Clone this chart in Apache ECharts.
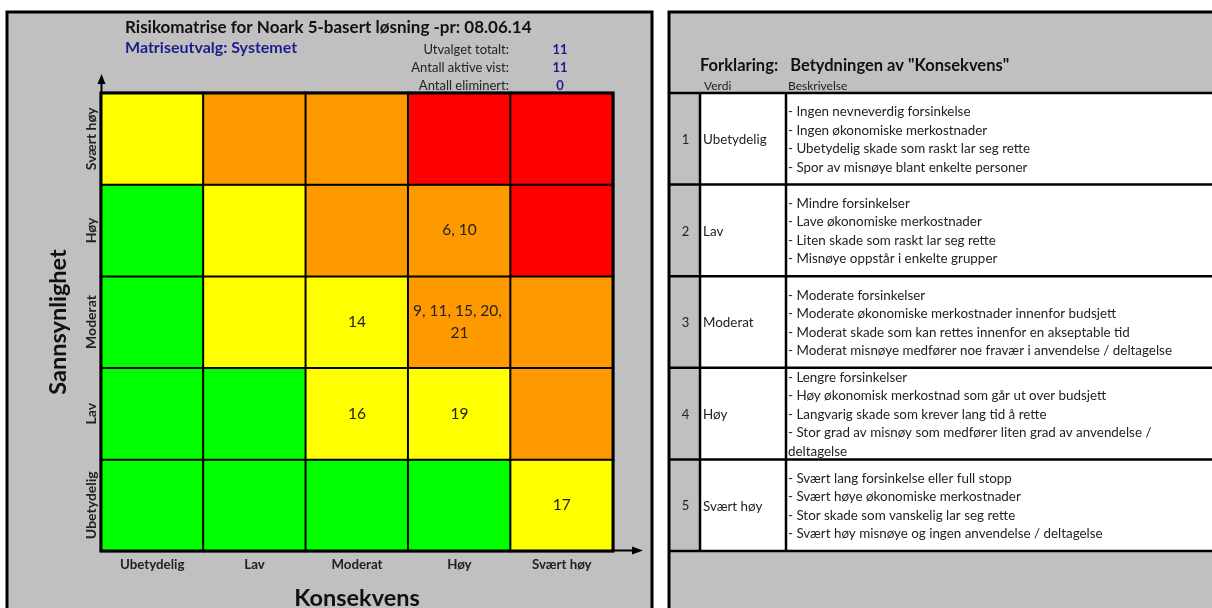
<!DOCTYPE html>
<html>
<head>
<meta charset="utf-8">
<script src="https://cdn.jsdelivr.net/npm/echarts@6/dist/echarts.min.js"></script>
<style>
html,body{margin:0;padding:0;background:#fff;}
#chart{width:1212px;height:608px;}
</style>
</head>
<body>
<div id="chart"></div>
<script>
// ---------- data ----------
const consequence = ['Ubetydelig', 'Lav', 'Moderat', 'Høy', 'Svært høy'];
const probability = ['Ubetydelig', 'Lav', 'Moderat', 'Høy', 'Svært høy'];
// risk level per probability row (bottom -> top), per consequence column
// 0 = green, 1 = yellow, 2 = orange, 3 = red
const riskUbetydelig = [0, 0, 0, 0, 1];
const riskLav        = [0, 0, 1, 1, 2];
const riskModerat    = [0, 1, 1, 2, 2];
const riskHoy        = [0, 1, 2, 2, 3];
const riskSvaertHoy  = [1, 2, 2, 3, 3];
const riskRows = [riskUbetydelig, riskLav, riskModerat, riskHoy, riskSvaertHoy];
// risk ids placed in cells
const idsUbetydelig = ['', '', '', '', '17'];
const idsLav        = ['', '', '16', '19', ''];
const idsModerat    = ['', '', '14', '9, 11, 15, 20, 21', ''];
const idsHoy        = ['', '', '', '6, 10', ''];
const idsSvaertHoy  = ['', '', '', '', ''];
const idRows = [idsUbetydelig, idsLav, idsModerat, idsHoy, idsSvaertHoy];

const titleText = 'Risikomatrise for Noark 5-basert løsning -pr: 08.06.14';
const subtitleText = 'Matriseutvalg: Systemet';
const statLabels = ['Utvalget totalt:', 'Antall aktive vist:', 'Antall eliminert:'];
const statValues = [11, 11, 0];

const legendTitle = 'Forklaring:   Betydningen av "Konsekvens"';
const legendHeaders = ['Verdi', 'Beskrivelse'];
const legendValues = [1, 2, 3, 4, 5];
const legendNames = ['Ubetydelig', 'Lav', 'Moderat', 'Høy', 'Svært høy'];
const desc1 = ['- Ingen nevneverdig forsinkelse', '- Ingen økonomiske merkostnader', '- Ubetydelig skade som raskt lar seg rette', '- Spor av misnøye blant enkelte personer'];
const desc2 = ['- Mindre forsinkelser', '- Lave økonomiske merkostnader', '- Liten skade som raskt lar seg rette', '- Misnøye oppstår i enkelte grupper'];
const desc3 = ['- Moderate forsinkelser', '- Moderate økonomiske merkostnader innenfor budsjett', '- Moderat skade som kan rettes innenfor en akseptable tid', '- Moderat misnøye medfører noe fravær i anvendelse / deltagelse'];
const desc4 = ['- Lengre forsinkelser', '- Høy økonomisk merkostnad som går ut over budsjett', '- Langvarig skade som krever lang tid å rette', '- Stor grad av misnøy som medfører liten grad av anvendelse / deltagelse'];
const desc5 = ['- Svært lang forsinkelse eller full stopp', '- Svært høye økonomiske merkostnader', '- Stor skade som vanskelig lar seg rette', '- Svært høy misnøye og ingen anvendelse / deltagelse'];
const legendDescs = [desc1, desc2, desc3, desc4, desc5];

// ---------- layout / style ----------
const FONT = 'Lato, "Open Sans", sans-serif';
const GRID = { left: 101, top: 93, width: 512, height: 458 };
const NAVY = '#1c1c8c';
const GRAY = '#c0c0c0';
const riskColors = ['#00ff00', '#ffff00', '#ff9900', '#ff0000'];

const heatData = [];
riskRows.forEach((row, y) => row.forEach((lvl, x) => heatData.push([x, y, lvl, idRows[y][x]])));

const graphics = [];
// panels
graphics.push({ type: 'rect', z: -10, shape: { x: 7, y: 12, width: 645, height: 620 },
  style: { fill: GRAY, stroke: '#000', lineWidth: 3 } });
graphics.push({ type: 'rect', z: -10, shape: { x: 669, y: 12, width: 600, height: 620 },
  style: { fill: GRAY, stroke: '#000', lineWidth: 3 } });
// titles
graphics.push({ type: 'text', x: 125, y: 28, style: { text: titleText, font: 'bold 17px ' + FONT, fill: '#111', verticalAlign: 'middle' } });
graphics.push({ type: 'text', x: 125, y: 48, style: { text: subtitleText, font: 'bold 16px ' + FONT, fill: NAVY, verticalAlign: 'middle' } });
statLabels.forEach((s, i) => {
  const yy = 50 + i * 18;
  graphics.push({ type: 'text', x: 509, y: yy, style: { text: s, font: '13px ' + FONT, fill: '#222', align: 'right', verticalAlign: 'middle' } });
  graphics.push({ type: 'text', x: 560, y: yy, style: { text: String(statValues[i]), font: 'bold 13px ' + FONT, fill: NAVY, align: 'center', verticalAlign: 'middle' } });
});
// arrows
const gx0 = GRID.left, gy1 = GRID.top + GRID.height, gx1 = GRID.left + GRID.width;
graphics.push({ type: 'line', z: 50, shape: { x1: gx0 + 0.5, y1: GRID.top, x2: gx0 + 0.5, y2: 82 }, style: { stroke: '#000', lineWidth: 2 } });
graphics.push({ type: 'polygon', z: 50, shape: { points: [[gx0 - 3.5, 84], [gx0 + 4.5, 84], [gx0 + 0.5, 74]] }, style: { fill: '#000' } });
graphics.push({ type: 'line', z: 50, shape: { x1: gx1, y1: gy1 - 0.5, x2: 634, y2: gy1 - 0.5 }, style: { stroke: '#000', lineWidth: 2 } });
graphics.push({ type: 'polygon', z: 50, shape: { points: [[632, gy1 - 4.5], [632, gy1 + 3.5], [643, gy1 - 0.5]] }, style: { fill: '#000' } });
// outer matrix border
graphics.push({ type: 'rect', z: 60, shape: { x: GRID.left, y: GRID.top, width: GRID.width, height: GRID.height },
  style: { fill: 'none', stroke: '#000', lineWidth: 3 } });

// legend panel
graphics.push({ type: 'text', x: 700, y: 66, style: { text: legendTitle, font: 'bold 16.5px ' + FONT, fill: '#111', verticalAlign: 'middle' } });
graphics.push({ type: 'text', x: 704, y: 86, style: { text: legendHeaders[0], font: '12px ' + FONT, fill: '#222', verticalAlign: 'middle' } });
graphics.push({ type: 'text', x: 788, y: 86, style: { text: legendHeaders[1], font: '12px ' + FONT, fill: '#222', verticalAlign: 'middle' } });
const TX0 = 669, TX1 = 700, TX2 = 786, TX3 = 1215;
const rowH = GRID.height / 5;
graphics.push({ type: 'rect', z: -5, shape: { x: TX1, y: GRID.top, width: TX3 - TX1, height: GRID.height }, style: { fill: '#fff' } });
for (let i = 0; i <= 5; i++) {
  const yy = GRID.top + i * rowH;
  graphics.push({ type: 'line', z: 40, shape: { x1: TX0, y1: yy, x2: TX3, y2: yy }, style: { stroke: '#000', lineWidth: 2.5 } });
}
[TX1, TX2].forEach(xx => graphics.push({ type: 'line', z: 40, shape: { x1: xx, y1: GRID.top, x2: xx, y2: gy1 }, style: { stroke: '#000', lineWidth: 2.5 } }));
legendValues.forEach((v, i) => {
  const cy = GRID.top + (i + 0.5) * rowH + 1;
  graphics.push({ type: 'text', x: (TX0 + TX1) / 2 + 1, y: cy, style: { text: String(v), font: '13px ' + FONT, fill: '#222', align: 'center', verticalAlign: 'middle' } });
  graphics.push({ type: 'text', x: 703, y: cy, style: { text: legendNames[i], font: '13.4px ' + FONT, fill: '#222', verticalAlign: 'middle' } });
  graphics.push({ type: 'text', x: 788, y: cy, style: { text: legendDescs[i].join('\n'), font: '13.4px ' + FONT, fill: '#222', verticalAlign: 'middle',
    lineHeight: 18.5, width: 405, overflow: 'break' } });
});

const option = {
  backgroundColor: '#fff',
  animation: false,
  textStyle: { fontFamily: FONT },
  grid: { left: GRID.left, top: GRID.top, width: GRID.width, height: GRID.height, show: false,
    containLabel: false, outerBoundsMode: 'none' },
  xAxis: {
    type: 'category', data: consequence, position: 'bottom',
    axisLine: { show: false }, axisTick: { show: false }, splitLine: { show: false },
    axisLabel: { fontFamily: FONT, fontWeight: 'bold', fontSize: 13.3, color: '#222', margin: 7 },
    name: 'Konsekvens', nameLocation: 'middle', nameGap: 35,
    nameTextStyle: { fontFamily: FONT, fontWeight: 'bold', fontSize: 23.5, color: '#111' }
  },
  yAxis: {
    type: 'category', data: probability,
    axisLine: { show: false }, axisTick: { show: false }, splitLine: { show: false },
    axisLabel: { fontFamily: FONT, fontWeight: 'bold', fontSize: 14, color: '#222', rotate: 90, margin: 3 },
    name: 'Sannsynlighet', nameLocation: 'middle', nameGap: 31, nameRotate: 90,
    nameTextStyle: { fontFamily: FONT, fontWeight: 'bold', fontSize: 23.5, color: '#111' }
  },
  visualMap: {
    show: false, type: 'piecewise', dimension: 2, seriesIndex: 0,
    pieces: riskColors.map((c, i) => ({ value: i, color: c }))
  },
  series: [{
    type: 'heatmap',
    data: heatData,
    itemStyle: { borderColor: '#000', borderWidth: 2 },
    emphasis: { disabled: true },
    label: {
      show: true,
      formatter: p => p.data[3],
      fontFamily: FONT, fontSize: 15.5, color: '#222', lineHeight: 22,
      width: 100, overflow: 'break', align: 'center'
    }
  }],
  graphic: graphics
};

const chart = echarts.init(document.getElementById('chart'), null, { renderer: 'canvas' });
chart.setOption(option);
</script>
</body>
</html>
